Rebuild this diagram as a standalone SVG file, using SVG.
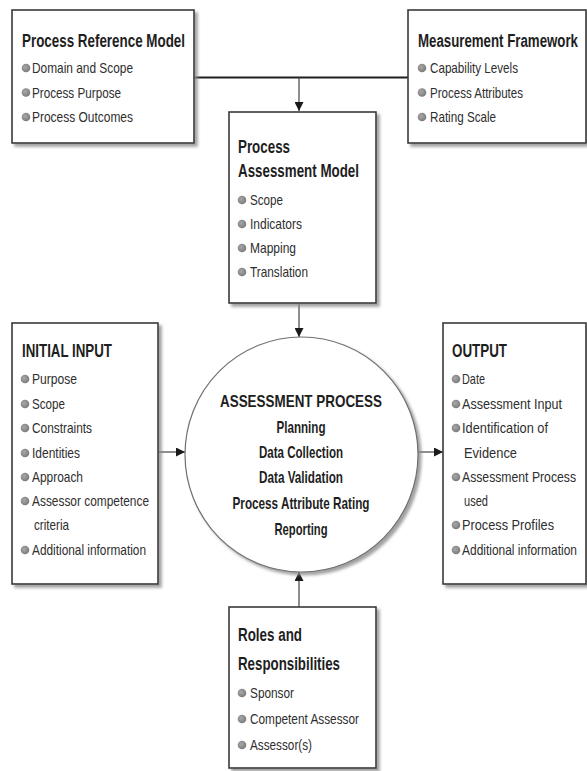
<svg xmlns="http://www.w3.org/2000/svg" width="587" height="771" viewBox="0 0 587 771">
<defs>
<filter id="sh" x="-10%" y="-10%" width="130%" height="130%">
<feDropShadow dx="3" dy="3" stdDeviation="1.5" flood-color="#8a8a8a" flood-opacity="0.8"/>
</filter>
<marker id="ah" viewBox="0 0 10 10" refX="10" refY="5" markerWidth="9" markerHeight="9" markerUnits="userSpaceOnUse" orient="auto">
<path d="M0,0 L10,5 L0,10 z" fill="#1a1a1a"/>
</marker>
<radialGradient id="bg" cx="0.4" cy="0.4" r="0.6">
<stop offset="0" stop-color="#a8a8a8"/>
<stop offset="1" stop-color="#7c7c7c"/>
</radialGradient>
</defs>
<style>
.box{fill:#fff;stroke:#3a3a3a;stroke-width:1.6;filter:url(#sh)}
.ell{fill:#fff;stroke:#707070;stroke-width:1.2;filter:url(#sh)}
.t{font-family:"Liberation Sans",Arial,sans-serif;font-weight:bold;font-size:18px;fill:#1e1e1e}
.c{font-family:"Liberation Sans",Arial,sans-serif;font-weight:bold;font-size:17px;fill:#1e1e1e;text-anchor:middle}
.b{font-family:"Liberation Sans",Arial,sans-serif;font-size:15px;fill:#2e2e2e}
.dot{fill:url(#bg)}
.ln{fill:none;stroke:#1e1e1e;stroke-width:1.8}
.ar{fill:none;stroke:#444;stroke-width:1.2;marker-end:url(#ah)}
</style>
<rect width="587" height="771" fill="#fff"/>

<g id="connectors">
<path class="ln" d="M194,77.5 H408"/>
<path class="ar" d="M299,77.5 V111"/>
<path class="ar" d="M299,303 V337"/>
<path class="ar" d="M158,452 H185"/>
<path class="ar" d="M418,452 H443"/>
<path class="ar" d="M299,607 V572"/>
</g>

<g id="process-reference-model">
<rect class="box" x="12" y="10" width="182" height="133"/>
<text class="t" x="22" y="47" textLength="163" lengthAdjust="spacingAndGlyphs">Process Reference Model</text>
<circle class="dot" cx="26" cy="68" r="4.3"/><text class="b" x="32" y="73" textLength="101" lengthAdjust="spacingAndGlyphs">Domain and Scope</text>
<circle class="dot" cx="26" cy="92.5" r="4.3"/><text class="b" x="32" y="97.5" textLength="89" lengthAdjust="spacingAndGlyphs">Process Purpose</text>
<circle class="dot" cx="26" cy="117" r="4.3"/><text class="b" x="32" y="122" textLength="101" lengthAdjust="spacingAndGlyphs">Process Outcomes</text>
</g>

<g id="measurement-framework">
<rect class="box" x="408" y="10" width="178" height="133"/>
<text class="t" x="418" y="47" textLength="160" lengthAdjust="spacingAndGlyphs">Measurement Framework</text>
<circle class="dot" cx="422" cy="68" r="4.3"/><text class="b" x="430" y="73" textLength="88" lengthAdjust="spacingAndGlyphs">Capability Levels</text>
<circle class="dot" cx="422" cy="92.5" r="4.3"/><text class="b" x="430" y="97.5" textLength="93" lengthAdjust="spacingAndGlyphs">Process Attributes</text>
<circle class="dot" cx="422" cy="117" r="4.3"/><text class="b" x="430" y="122" textLength="66" lengthAdjust="spacingAndGlyphs">Rating Scale</text>
</g>

<g id="process-assessment-model">
<rect class="box" x="229" y="112" width="147" height="191"/>
<text class="t" x="238" y="153" textLength="52" lengthAdjust="spacingAndGlyphs">Process</text>
<text class="t" x="238" y="177" textLength="121" lengthAdjust="spacingAndGlyphs">Assessment Model</text>
<circle class="dot" cx="242" cy="200" r="4.3"/><text class="b" x="250" y="205" textLength="33" lengthAdjust="spacingAndGlyphs">Scope</text>
<circle class="dot" cx="242" cy="224" r="4.3"/><text class="b" x="250" y="229" textLength="52" lengthAdjust="spacingAndGlyphs">Indicators</text>
<circle class="dot" cx="242" cy="248" r="4.3"/><text class="b" x="250" y="253" textLength="46" lengthAdjust="spacingAndGlyphs">Mapping</text>
<circle class="dot" cx="242" cy="272" r="4.3"/><text class="b" x="250" y="277" textLength="58" lengthAdjust="spacingAndGlyphs">Translation</text>
</g>

<g id="initial-input">
<rect class="box" x="12" y="323" width="146" height="261"/>
<text class="t" x="22" y="357" textLength="90" lengthAdjust="spacingAndGlyphs">INITIAL INPUT</text>
<circle class="dot" cx="25" cy="379" r="4.3"/><text class="b" x="32" y="384" textLength="45" lengthAdjust="spacingAndGlyphs">Purpose</text>
<circle class="dot" cx="25" cy="404" r="4.3"/><text class="b" x="32" y="409" textLength="33" lengthAdjust="spacingAndGlyphs">Scope</text>
<circle class="dot" cx="25" cy="428" r="4.3"/><text class="b" x="32" y="433" textLength="60" lengthAdjust="spacingAndGlyphs">Constraints</text>
<circle class="dot" cx="25" cy="453" r="4.3"/><text class="b" x="32" y="458" textLength="48" lengthAdjust="spacingAndGlyphs">Identities</text>
<circle class="dot" cx="25" cy="477" r="4.3"/><text class="b" x="32" y="482" textLength="51" lengthAdjust="spacingAndGlyphs">Approach</text>
<circle class="dot" cx="25" cy="501" r="4.3"/><text class="b" x="32" y="506" textLength="117" lengthAdjust="spacingAndGlyphs">Assessor competence</text>
<text class="b" x="34" y="530" textLength="35" lengthAdjust="spacingAndGlyphs">criteria</text>
<circle class="dot" cx="25" cy="550" r="4.3"/><text class="b" x="32" y="555" textLength="114" lengthAdjust="spacingAndGlyphs">Additional information</text>
</g>

<g id="assessment-process">
<ellipse class="ell" cx="301.5" cy="454.5" rx="116.5" ry="117.5"/>
<text class="c" x="301" y="407" textLength="162" lengthAdjust="spacingAndGlyphs">ASSESSMENT PROCESS</text>
<text class="c" x="301" y="433" textLength="49" lengthAdjust="spacingAndGlyphs">Planning</text>
<text class="c" x="301" y="458" textLength="84" lengthAdjust="spacingAndGlyphs">Data Collection</text>
<text class="c" x="301" y="483" textLength="84" lengthAdjust="spacingAndGlyphs">Data Validation</text>
<text class="c" x="301" y="509" textLength="137" lengthAdjust="spacingAndGlyphs">Process Attribute Rating</text>
<text class="c" x="301" y="535" textLength="53" lengthAdjust="spacingAndGlyphs">Reporting</text>
</g>

<g id="output">
<rect class="box" x="443" y="323" width="143" height="261"/>
<text class="t" x="452" y="357" textLength="55" lengthAdjust="spacingAndGlyphs">OUTPUT</text>
<circle class="dot" cx="456" cy="379" r="4.3"/><text class="b" x="462" y="384" textLength="23" lengthAdjust="spacingAndGlyphs">Date</text>
<circle class="dot" cx="456" cy="404" r="4.3"/><text class="b" x="462" y="409" textLength="100" lengthAdjust="spacingAndGlyphs">Assessment Input</text>
<circle class="dot" cx="456" cy="428" r="4.3"/><text class="b" x="462" y="433" textLength="86" lengthAdjust="spacingAndGlyphs">Identification of</text>
<text class="b" x="464" y="458" textLength="53" lengthAdjust="spacingAndGlyphs">Evidence</text>
<circle class="dot" cx="456" cy="477" r="4.3"/><text class="b" x="462" y="482" textLength="114" lengthAdjust="spacingAndGlyphs">Assessment Process</text>
<text class="b" x="464" y="506" textLength="24" lengthAdjust="spacingAndGlyphs">used</text>
<circle class="dot" cx="456" cy="525" r="4.3"/><text class="b" x="462" y="530" textLength="92" lengthAdjust="spacingAndGlyphs">Process Profiles</text>
<circle class="dot" cx="456" cy="550" r="4.3"/><text class="b" x="462" y="555" textLength="115" lengthAdjust="spacingAndGlyphs">Additional information</text>
</g>

<g id="roles-and-responsibilities">
<rect class="box" x="229" y="607" width="147" height="161"/>
<text class="t" x="238" y="641" textLength="64" lengthAdjust="spacingAndGlyphs">Roles and</text>
<text class="t" x="238" y="670" textLength="102" lengthAdjust="spacingAndGlyphs">Responsibilities</text>
<circle class="dot" cx="242" cy="693" r="4.3"/><text class="b" x="250" y="698" textLength="44" lengthAdjust="spacingAndGlyphs">Sponsor</text>
<circle class="dot" cx="242" cy="719" r="4.3"/><text class="b" x="250" y="724" textLength="109" lengthAdjust="spacingAndGlyphs">Competent Assessor</text>
<circle class="dot" cx="242" cy="745" r="4.3"/><text class="b" x="250" y="750" textLength="62" lengthAdjust="spacingAndGlyphs">Assessor(s)</text>
</g>
</svg>
